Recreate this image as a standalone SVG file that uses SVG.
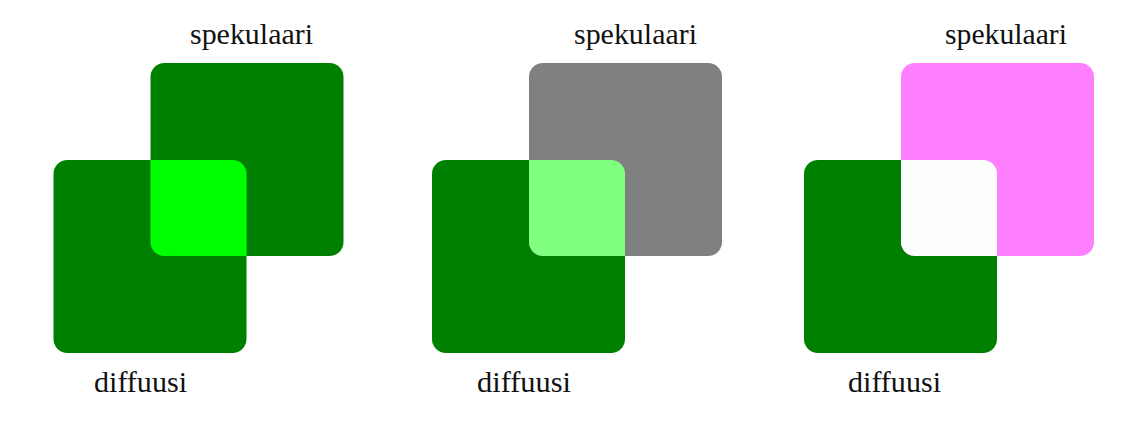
<svg xmlns="http://www.w3.org/2000/svg" width="1147" height="436" viewBox="0 0 1147 436">
<style>
.lbl{font-family:"Liberation Serif","DejaVu Serif",serif;font-size:29px;fill:#111;text-anchor:middle}
.dif{fill:#008000}
</style>
<defs>
<rect id="dsq" x="0" y="160" width="193" height="193" rx="14" ry="14"/>
<rect id="ssq" x="97" y="63" width="193" height="193" rx="14" ry="14"/>
<path id="ov" d="M97,160 H179 A14,14 0 0 1 193,174 V256 H111 A14,14 0 0 1 97,242 Z"/>
</defs>
<rect width="1147" height="436" fill="#fff"/>
<g id="panel1" transform="translate(53.5,0)">
<g id="diffuse1"><use href="#dsq" class="dif"/></g>
<g id="specular1"><use href="#ssq" fill="#008000"/></g>
<g id="overlap1"><use href="#ov" fill="#00ff00"/></g>
</g>
<g id="panel2" transform="translate(432,0)">
<g id="diffuse2"><use href="#dsq" class="dif"/></g>
<g id="specular2"><use href="#ssq" fill="#808080"/></g>
<g id="overlap2"><use href="#ov" fill="#80ff80"/></g>
</g>
<g id="panel3" transform="translate(804,0)">
<g id="diffuse3"><use href="#dsq" class="dif"/></g>
<g id="specular3"><use href="#ssq" fill="#ff80ff"/></g>
<g id="overlap3"><use href="#ov" fill="#fcfefc"/></g>
</g>
<g id="labels">
<text class="lbl" x="251.5" y="44" textLength="123" lengthAdjust="spacingAndGlyphs">spekulaari</text>
<text class="lbl" x="635.5" y="44" textLength="123" lengthAdjust="spacingAndGlyphs">spekulaari</text>
<text class="lbl" x="1006" y="44" textLength="122" lengthAdjust="spacingAndGlyphs">spekulaari</text>
<text class="lbl" x="140.5" y="392" textLength="93" lengthAdjust="spacingAndGlyphs">diffuusi</text>
<text class="lbl" x="524" y="392" textLength="94" lengthAdjust="spacingAndGlyphs">diffuusi</text>
<text class="lbl" x="894.5" y="392" textLength="93" lengthAdjust="spacingAndGlyphs">diffuusi</text>
</g>
<g id="connectors"/>
</svg>
